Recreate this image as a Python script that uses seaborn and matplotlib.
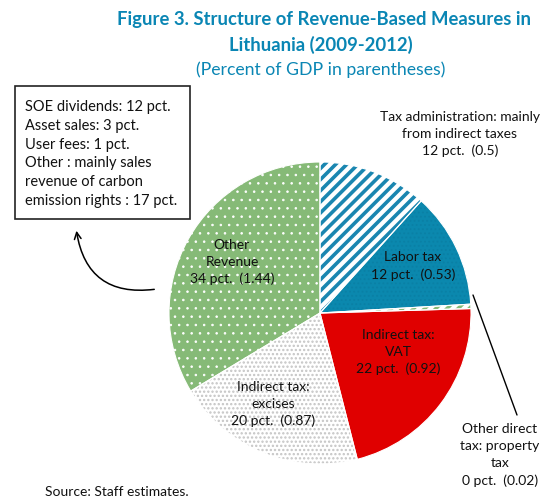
import matplotlib
matplotlib.use("Agg")
import matplotlib.pyplot as plt
from matplotlib.patches import Rectangle
import seaborn as sns

# ----------- 데이터 -----------
categories = ["Tax administration", "Labor tax", "Other direct tax",
              "Indirect tax: VAT", "Indirect tax: excises", "Other Revenue"]
pct_share = [12, 12, 0, 22, 20, 34]
gdp_share = [0.5, 0.53, 0.02, 0.92, 0.87, 1.44]
slice_labels = ["Tax administration: mainly\nfrom indirect taxes", "Labor tax",
                "Other direct\ntax: property\ntax", "Indirect tax:\nVAT",
                "Indirect tax:\nexcises", "Other\nRevenue"]
other_items = ["SOE dividends: 12 pct.", "Asset sales: 3 pct.", "User fees: 1 pct.",
               "Other : mainly sales", "revenue of carbon", "emission rights : 17 pct."]

sns.set_theme(style="white")
plt.rcParams["font.family"] = ["Lato", "DejaVu Sans"]

W, H = 552, 500
def py(y):
    # 픽셀 좌표 (위에서부터) -> 데이터 좌표
    return H - y

fill_colors = ["white", "#0b88ae", "white", "#e00000", "white", "#86ba77"]
hatch_colors = ["#1a86b0", "#0a80a5", "#86ba77", "#e00000", "#c4c4c4", "white"]
hatches = ["///", "....", "///", None, "....", ".."]
hatch_widths = [2.6, 0.8, 2.6, 1.0, 1.1, 0.6]

fig = plt.figure(figsize=(W / 100, H / 100), dpi=100)
ax = fig.add_axes([0, 0, 1, 1])

wedges, _ = ax.pie(gdp_share, startangle=90, counterclock=False,
                   center=(320, py(313)), radius=151)
for w, fc, hc, hp, hw in zip(wedges, fill_colors, hatch_colors, hatches, hatch_widths):
    w.set_facecolor(fc)
    w.set_edgecolor(hc)
    w.set_linewidth(0)
    if hp:
        w.set_hatch(hp)
        if hasattr(w, "set_hatch_linewidth"):
            w.set_hatch_linewidth(hw)

# 얇은 흰색 경계선
ax.pie(gdp_share, startangle=90, counterclock=False, center=(320, py(313)), radius=151,
       wedgeprops=dict(fill=False, edgecolor="white", linewidth=0.8))

ax.set_xlim(0, W)
ax.set_ylim(0, H)
ax.set_aspect("equal")
ax.axis("off")

# 라벨
label_pos = [(460, 134), (413, 266), (500, 455), (398, 352), (273, 404), (232, 262)]
for lab, p, g, (x, y) in zip(slice_labels, pct_share, gdp_share, label_pos):
    ax.text(x, py(y), f"{lab}\n{p} pct.  ({g})", ha="center", va="center",
            fontsize=10, color="#111111", linespacing=1.5)

# 기타 수입 상자
ax.add_patch(Rectangle((15, py(219)), 175, 133, fill=False, edgecolor="#222222", linewidth=1.2))
ax.text(25, py(154), "\n".join(other_items), ha="left", va="center",
        fontsize=10.5, color="#111111", linespacing=1.45)

# 화살표
ax.annotate("", xy=(76, py(228)), xytext=(157, py(289)),
            arrowprops=dict(arrowstyle="->", color="black", linewidth=1.1,
                            connectionstyle="arc3,rad=-0.5"))

# property tax 지시선
ax.plot([473, 517], [py(295), py(415)], color="black", linewidth=1)

# 제목
title_color = "#0a86b4"
ax.text(324, py(20), "Figure 3. Structure of Revenue-Based Measures in", ha="center", va="center",
        fontsize=13.3, fontweight="bold", color=title_color)
ax.text(321, py(45), "Lithuania (2009-2012)", ha="center", va="center",
        fontsize=13.3, fontweight="bold", color=title_color)
ax.text(321, py(70), "(Percent of GDP in parentheses)", ha="center", va="center",
        fontsize=12.7, color=title_color)

ax.text(45, py(492), "Source: Staff estimates.", ha="left", va="center",
        fontsize=10, color="#111111")

fig.savefig("out.png", dpi=100)
